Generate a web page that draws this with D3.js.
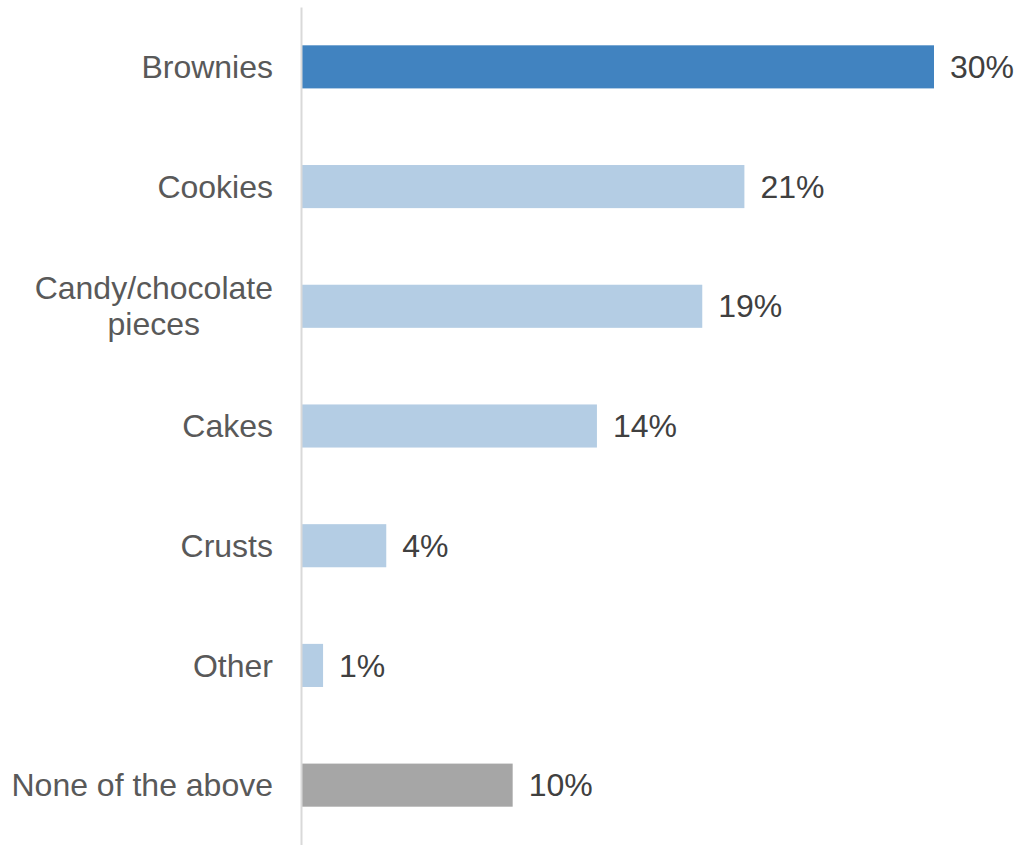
<!DOCTYPE html>
<html>
<head>
<meta charset="utf-8">
<script src="https://cdn.jsdelivr.net/npm/d3@7"></script>
<style>
  html, body { margin: 0; padding: 0; background: #fff; }
  svg { display: block; font-family: "Liberation Sans", Arial, sans-serif; }
</style>
</head>
<body>
<svg id="chart" width="1020" height="845"></svg>
<script>
// Survey answers, share of respondents (%)
const categories = ["Brownies", "Cookies", "Candy/chocolate pieces", "Cakes", "Crusts", "Other", "None of the above"];
const labelLines = [["Brownies"], ["Cookies"], ["Candy/chocolate", "pieces"], ["Cakes"], ["Crusts"], ["Other"], ["None of the above"]];
const values = [30, 21, 19, 14, 4, 1, 10];
const valueLabels = ["30%", "21%", "19%", "14%", "4%", "1%", "10%"];
const barKinds = ["highlight", "regular", "regular", "regular", "regular", "regular", "none"];

const colors = { highlight: "#4183c0", regular: "#b4cde4", none: "#a6a6a6" };

const svg = d3.select("#chart");
const margin = { top: 7, right: 86, bottom: 0, left: 302 };
const width = 1020 - margin.left - margin.right;
const height = 845 - margin.top - margin.bottom;

const g = svg.append("g").attr("transform", `translate(${margin.left},${margin.top})`);

const x = d3.scaleLinear().domain([0, 30]).range([0, 632]);
const y = d3.scaleBand().domain(categories).range([0, height]).paddingInner(0.64).paddingOuter(0.32);

// Bars
g.selectAll("rect.bar")
  .data(categories)
  .join("rect")
  .attr("class", "bar")
  .attr("x", 0)
  .attr("y", d => y(d))
  .attr("width", (d, i) => x(values[i]))
  .attr("height", y.bandwidth())
  .attr("fill", (d, i) => colors[barKinds[i]]);

// Value labels
g.selectAll("text.value")
  .data(categories)
  .join("text")
  .attr("class", "value")
  .attr("x", (d, i) => x(values[i]) + 16)
  .attr("y", d => y(d) + y.bandwidth() / 2)
  .attr("dy", "0.35em")
  .attr("font-size", 32)
  .attr("fill", "#404040")
  .text((d, i) => valueLabels[i]);

// Category axis (vertical line, no ticks)
const axis = d3.axisLeft(y).tickSize(0).tickFormat("");
const axisG = g.append("g").attr("transform", "translate(-1,0)").call(axis);
axisG.select(".domain").attr("stroke", "#d9d9d9").attr("stroke-width", 2);

// Category labels: block right-aligned to the axis, lines centred within the block
const lineH = 36;
const labelRight = -29;
g.selectAll("text.cat")
  .data(categories)
  .join("text")
  .attr("class", "cat")
  .attr("text-anchor", "middle")
  .attr("font-size", 32)
  .attr("fill", "#595959")
  .each(function (d, i) {
    const lines = labelLines[i];
    const cy = y(d) + y.bandwidth() / 2;
    const start = cy - (lines.length - 1) * lineH / 2;
    const spans = d3.select(this).selectAll("tspan")
      .data(lines)
      .join("tspan")
      .attr("y", (l, j) => start + j * lineH)
      .attr("dy", "0.35em")
      .text(l => l);
    const maxW = d3.max(spans.nodes(), n => n.getComputedTextLength());
    spans.attr("x", labelRight - maxW / 2);
  });
</script>
</body>
</html>
